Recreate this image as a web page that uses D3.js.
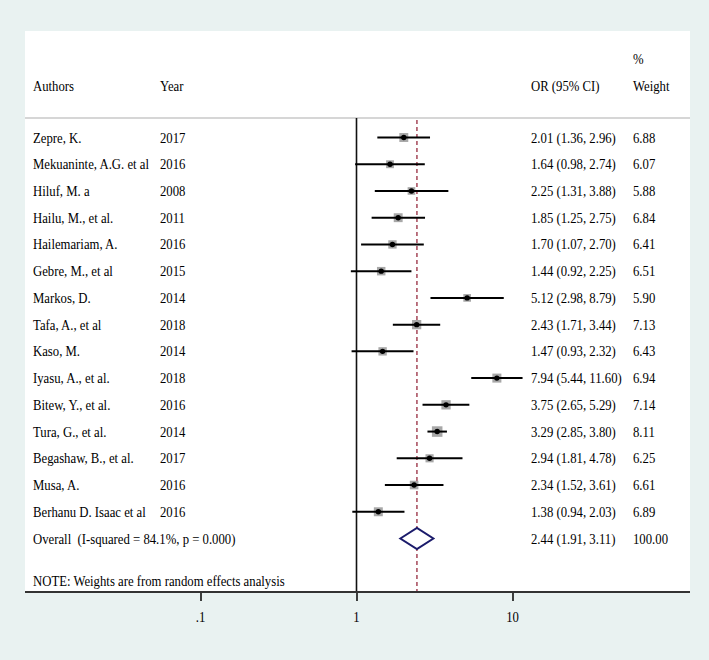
<!DOCTYPE html>
<html>
<head>
<meta charset="utf-8">
<script src="https://cdn.jsdelivr.net/npm/d3@7/dist/d3.min.js"></script>
<style>
  html, body { margin: 0; padding: 0; background: #e9f2f1; }
  svg { display: block; }
  text { font-family: "Liberation Serif", "Times New Roman", serif; fill: #000; white-space: pre; }
</style>
</head>
<body>
<svg id="chart" width="709" height="660"></svg>
<script>
const authors = ["Zepre, K.", "Mekuaninte, A.G. et al", "Hiluf, M. a", "Hailu, M., et al.", "Hailemariam, A.", "Gebre, M., et al", "Markos, D.", "Tafa, A., et al", "Kaso, M.", "Iyasu, A., et al.", "Bitew, Y., et al.", "Tura, G., et al.", "Begashaw, B., et al.", "Musa, A.", "Berhanu D. Isaac et al"];
const years = ["2017", "2016", "2008", "2011", "2016", "2015", "2014", "2018", "2014", "2018", "2016", "2014", "2017", "2016", "2016"];
const orValues = [2.01, 1.64, 2.25, 1.85, 1.70, 1.44, 5.12, 2.43, 1.47, 7.94, 3.75, 3.29, 2.94, 2.34, 1.38];
const ciLow = [1.36, 0.98, 1.31, 1.25, 1.07, 0.92, 2.98, 1.71, 0.93, 5.44, 2.65, 2.85, 1.81, 1.52, 0.94];
const ciHigh = [2.96, 2.74, 3.88, 2.75, 2.70, 2.25, 8.79, 3.44, 2.32, 11.60, 5.29, 3.80, 4.78, 3.61, 2.03];
const weights = [6.88, 6.07, 5.88, 6.84, 6.41, 6.51, 5.90, 7.13, 6.43, 6.94, 7.14, 8.11, 6.25, 6.61, 6.89];
const overall = { label: "Overall  (I-squared = 84.1%, p = 0.000)", or: 2.44, lo: 1.91, hi: 3.11, weight: "100.00" };
const tickValues = [0.1, 1, 10];
const tickLabels = [".1", "1", "10"];

const svg = d3.select("#chart");
const panel = { left: 25, right: 690, top: 31, bottom: 592 };

svg.append("rect").attr("x", panel.left).attr("y", panel.top)
  .attr("width", panel.right - panel.left).attr("height", panel.bottom - panel.top)
  .attr("fill", "#ffffff");

const x = d3.scaleLog().domain([0.1, 10]).range([200.5, 512.5]);
const y = d3.scaleLinear().domain([0, 15]).range([137.5, 538.5]);

const fs = 14;
const sx = 0.91;
const colAuthor = 33, colYear = 160, colOR = 531, colW = 633;

function txt(parent, tx, ty, s, anchor) {
  return parent.append("text")
    .attr("transform", `translate(${tx},${ty}) scale(${sx},1)`)
    .attr("font-size", fs)
    .attr("text-anchor", anchor || "start")
    .text(s);
}

// header
txt(svg, colW, 64, "%");
txt(svg, colAuthor, 91, "Authors");
txt(svg, colYear, 91, "Year");
txt(svg, colOR, 91, "OR (95% CI)");
txt(svg, colW, 91, "Weight");

svg.append("line").attr("x1", panel.left).attr("x2", panel.right).attr("y1", 118).attr("y2", 118)
  .attr("stroke", "#c9c9c9").attr("stroke-width", 1.5);

// reference line at 1
svg.append("line").attr("x1", x(1)).attr("x2", x(1)).attr("y1", 118).attr("y2", panel.bottom)
  .attr("stroke", "#111").attr("stroke-width", 1.6);

// overall dashed line
svg.append("line").attr("x1", x(overall.or)).attr("x2", x(overall.or)).attr("y1", 120).attr("y2", panel.bottom)
  .attr("stroke", "#9e3a4c").attr("stroke-width", 1.4).attr("stroke-dasharray", "4,3");

const rows = authors.map((a, i) => ({ a, yr: years[i], or: orValues[i], lo: ciLow[i], hi: ciHigh[i], w: weights[i], i }));

const g = svg.append("g");
const defs = svg.append("defs");
defs.append("filter").attr("id", "soft").append("feGaussianBlur").attr("stdDeviation", 0.7);

rows.forEach(d => {
  const yy = y(d.i);
  const s = 1.3 * d.w;
  g.append("rect").attr("x", x(d.or) - s / 2).attr("y", yy - s / 2).attr("width", s).attr("height", s)
    .attr("fill", "#a8a8a8").attr("filter", "url(#soft)");
  g.append("line").attr("x1", x(d.lo)).attr("x2", x(d.hi)).attr("y1", yy).attr("y2", yy)
    .attr("stroke", "#000").attr("stroke-width", 2);
  g.append("circle").attr("cx", x(d.or)).attr("cy", yy).attr("r", 2.7).attr("fill", "#000");
  txt(g, colAuthor, yy + 5, d.a);
  txt(g, colYear, yy + 5, d.yr);
  txt(g, colOR, yy + 5, `${d.or.toFixed(2)} (${d.lo.toFixed(2)}, ${d.hi.toFixed(2)})`);
  txt(g, colW, yy + 5, d.w.toFixed(2));
});

// overall
const yo = y(15);
const hh = 10.5;
g.append("path")
  .attr("d", `M${x(overall.lo)},${yo} L${x(overall.or)},${yo - hh} L${x(overall.hi)},${yo} L${x(overall.or)},${yo + hh} Z`)
  .attr("fill", "#fff").attr("stroke", "#1b1b6b").attr("stroke-width", 2);
txt(g, colAuthor, yo + 5, overall.label);
txt(g, colOR, yo + 5, `${overall.or.toFixed(2)} (${overall.lo.toFixed(2)}, ${overall.hi.toFixed(2)})`);
txt(g, colW, yo + 5, overall.weight);

txt(svg, colAuthor, 586, "NOTE: Weights are from random effects analysis");

// axis
const axis = d3.axisBottom(x).tickValues(tickValues).tickFormat(() => "").tickSize(9);
const ag = svg.append("g").attr("transform", `translate(0,${panel.bottom})`).call(axis);
ag.select(".domain").remove();
ag.selectAll(".tick line").attr("stroke", "#111").attr("stroke-width", 1.6);
tickValues.forEach((v, i) => txt(svg, x(v), 622, tickLabels[i], "middle"));
svg.append("line").attr("x1", panel.left).attr("x2", panel.right).attr("y1", panel.bottom).attr("y2", panel.bottom)
  .attr("stroke", "#333").attr("stroke-width", 2.2);
</script>
</body>
</html>
